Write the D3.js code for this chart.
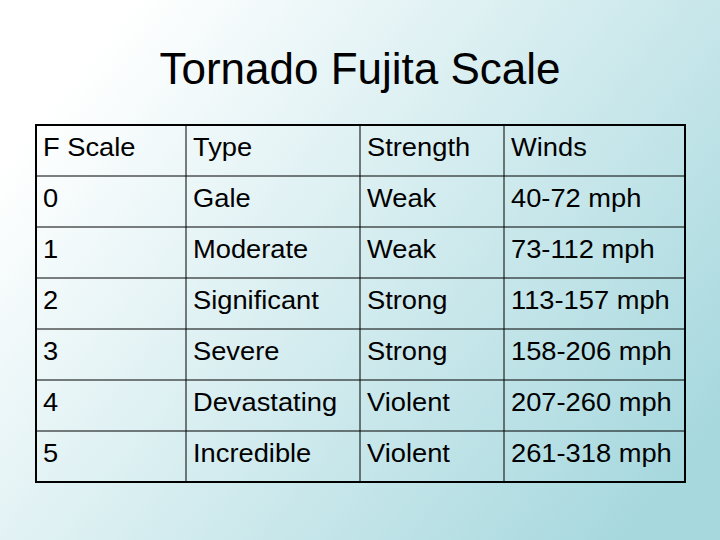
<!DOCTYPE html>
<html><head><meta charset="utf-8">
<script src="https://cdn.jsdelivr.net/npm/d3@7"></script>
<style>body{margin:0}svg{display:block}</style></head>
<body><svg id="c" width="720" height="540"></svg>
<script>
const title = "Tornado Fujita Scale";
const headers = ["F Scale","Type","Strength","Winds"];
const fScale = ["0","1","2","3","4","5"];
const types = ["Gale","Moderate","Significant","Severe","Devastating","Incredible"];
const strengths = ["Weak","Weak","Strong","Strong","Violent","Violent"];
const winds = ["40-72 mph","73-112 mph","113-157 mph","158-206 mph","207-260 mph","261-318 mph"];

const svg = d3.select("#c");
const defs = svg.append("defs");
const g = defs.append("linearGradient").attr("id","bg").attr("x1","0").attr("y1","0.2").attr("x2","1").attr("y2","0.8");
g.append("stop").attr("offset","0.05").attr("stop-color","#ffffff");
g.append("stop").attr("offset","1").attr("stop-color","#a6d8de");
svg.append("rect").attr("width",720).attr("height",540).attr("fill","url(#bg)");

svg.append("text").attr("x",360).attr("y",84).attr("text-anchor","middle")
  .attr("font-family","Liberation Sans, Arial, sans-serif").attr("font-size",44).attr("fill","#000").text(title);

const rows = [headers].concat(fScale.map((f,i)=>[f,types[i],strengths[i],winds[i]]));
const colEdges = [36,186,360,504,685];
const x = d3.scaleOrdinal().domain([0,1,2,3]).range(colEdges.slice(0,4));
const y = d3.scaleLinear().domain([0,rows.length]).range([125,482]);

const t = svg.append("g");
rows.forEach((r,ri)=>{
  r.forEach((c,ci)=>{
    t.append("text").attr("x",x(ci)+7).attr("y",(y(ri)+y(ri+1))/2+6)
      .attr("font-family","Liberation Sans, Arial, sans-serif").attr("font-size",26)
      .attr("textLength", null).attr("fill","#000").text(c)
      .attr("transform",`translate(${x(ci)+7},0) scale(1.05,1) translate(${-(x(ci)+7)},0)`);
  });
});
for(let i=1;i<rows.length;i++) t.append("line").attr("x1",36).attr("x2",685).attr("y1",y(i)).attr("y2",y(i)).attr("stroke","#000").attr("stroke-width",1);
colEdges.slice(1,4).forEach(cx=>t.append("line").attr("x1",cx).attr("x2",cx).attr("y1",125).attr("y2",482).attr("stroke","#000").attr("stroke-width",1));
t.append("rect").attr("x",36).attr("y",125).attr("width",649).attr("height",357).attr("fill","none").attr("stroke","#000").attr("stroke-width",2);
</script></body></html>
